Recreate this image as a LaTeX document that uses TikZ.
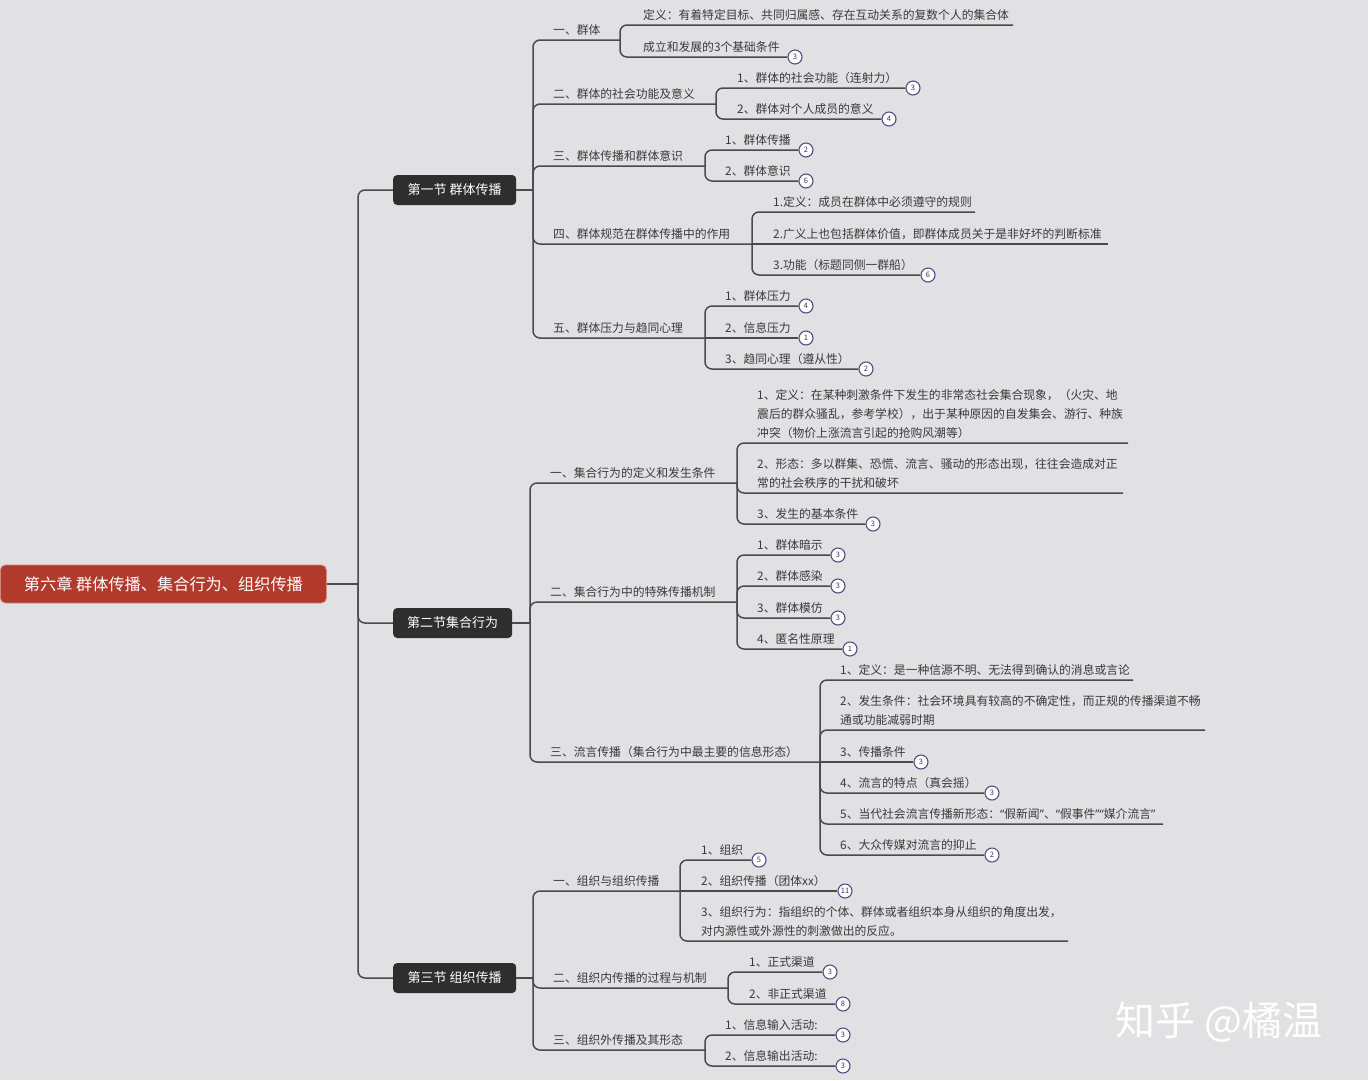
\documentclass[tikz,border=0pt]{standalone}
\usepackage{fontspec}
\setmainfont{Noto Sans CJK SC}
\newfontfamily\latq{Noto Sans}
\definecolor{bgc}{HTML}{E1E0E2}
\definecolor{linec}{HTML}{4A4A4A}
\definecolor{txtc}{HTML}{3A3A3A}
\definecolor{badgec}{HTML}{4F4F86}
\definecolor{rootc}{HTML}{B23A2C}
\definecolor{secc}{HTML}{2E2E2E}
\tikzset{
 conn/.style={draw=linec, line width=1.5pt, rounded corners=7pt},
 tx/.style={inner sep=0pt, anchor=south west, text depth=0pt, text=txtc, font=\fontsize{11.8}{19}\selectfont, align=left},
 badge/.style={circle, draw=badgec, fill=white, line width=1.1pt, minimum size=14pt, inner sep=0pt, font=\fontsize{7.5}{7.5}\selectfont, text=badgec!70!black},
 sect/.style={rounded corners=4pt, fill=secc, text=white, font=\fontsize{13}{13}\selectfont, minimum height=30pt, inner xsep=0pt, anchor=west},
 rootbox/.style={rounded corners=5pt, fill=rootc, draw=rootc!60!white, line width=0.8pt, text=white, font=\fontsize{16.2}{16.2}\selectfont, minimum height=38pt, minimum width=326pt, inner xsep=0pt, anchor=west},
}
\newcommand\tp[4]{\node[tx] (#1) at (#2,#3-5) {#4};}
\newcommand\bd[4]{\node[badge] (#1) at (#2,#3) {#4};}
\newcommand\myLq{{\latq “}}
\newcommand\myRq{{\latq ”}}
\begin{document}
\begin{tikzpicture}[x=1pt,y=-1pt]
\useasboundingbox[fill=bgc] (0,0) rectangle (1368,1080);

% root and trunk
\node[rootbox] (root) at (0,584) {第六章 群体传播、集合行为、组织传播};
\node[sect, minimum width=123pt] (s1) at (393,190) {第一节 群体传播};
\node[sect, minimum width=119pt] (s2) at (393,623) {第二节集合行为};
\node[sect, minimum width=123pt] (s3) at (393,978) {第三节 组织传播};
\coordinate (t) at (358,584);
\draw[conn] (root.east) -- (t);
\draw[conn] (t) |- (s1.west);
\draw[conn] (t) |- (s2.west);
\draw[conn] (t) |- (s3.west);

% ===== Section 1 =====
\coordinate (j1) at (533,190);
\draw[conn] (s1.east) -- (j1);

\tp{c11}{553}{40}{一、群体}
\coordinate (k11) at (620,40);
\draw[conn] (j1) |- (k11);
\tp{c111}{643}{25}{定义：有着特定目标、共同归属感、存在互动关系的复数个人的集合体}
\coordinate (e111) at (1013,25);
\draw[conn] (k11) |- (e111);
\tp{c112}{643}{57}{成立和发展的3个基础条件}
\bd{b112}{795}{57}{3}
\draw[conn] (k11) |- (b112.west);

\tp{c12}{553}{104}{二、群体的社会功能及意义}
\coordinate (k12) at (716,104);
\draw[conn] (j1) |- (k12);
\tp{c121}{737}{88}{1、群体的社会功能（连射力）}
\bd{b121}{913}{88}{3}
\draw[conn] (k12) |- (b121.west);
\tp{c122}{737}{119}{2、群体对个人成员的意义}
\bd{b122}{889}{119}{4}
\draw[conn] (k12) |- (b122.west);

\tp{c13}{553}{166}{三、群体传播和群体意识}
\coordinate (k13) at (705,166);
\draw[conn] (j1) |- (k13);
\tp{c131}{725}{150}{1、群体传播}
\bd{b131}{806}{150}{2}
\draw[conn] (k13) |- (b131.west);
\tp{c132}{725}{181}{2、群体意识}
\bd{b132}{806}{181}{6}
\draw[conn] (k13) |- (b132.west);

\tp{c14}{553}{244}{四、群体规范在群体传播中的作用}
\coordinate (k14) at (752,244);
\draw[conn] (j1) |- (k14);
\tp{c141}{773}{212}{1.定义：成员在群体中必须遵守的规则}
\coordinate (e141) at (975,212);
\draw[conn] (k14) |- (e141);
\tp{c142}{773}{244}{2.广义上也包括群体价值，即群体成员关于是非好坏的判断标准}
\coordinate (e142) at (1108,244);
\draw[conn] (k14) -- (e142);
\tp{c143}{773}{275}{3.功能（标题同侧一群船）}
\bd{b143}{928}{275}{6}
\draw[conn] (k14) |- (b143.west);

\tp{c15}{553}{338}{五、群体压力与趋同心理}
\coordinate (k15) at (705,338);
\draw[conn] (j1) |- (k15);
\tp{c151}{725}{306}{1、群体压力}
\bd{b151}{806}{306}{4}
\draw[conn] (k15) |- (b151.west);
\tp{c152}{725}{338}{2、信息压力}
\bd{b152}{806}{338}{1}
\draw[conn] (k15) -- (b152.west);
\tp{c153}{725}{369}{3、趋同心理（遵从性）}
\bd{b153}{866}{369}{2}
\draw[conn] (k15) |- (b153.west);

% ===== Section 2 =====
\coordinate (j2) at (530,623);
\draw[conn] (s2.east) -- (j2);

\tp{c21}{550}{483}{一、集合行为的定义和发生条件}
\coordinate (k21) at (737,483);
\draw[conn] (j2) |- (k21);
\tp{c211}{757}{443}{1、定义：在某种刺激条件下发生的非常态社会集合现象，（火灾、地\\震后的群众骚乱，参考学校），出于某种原因的自发集会、游行、种族\\冲突（物价上涨流言引起的抢购风潮等）}
\coordinate (e211) at (1128,443);
\draw[conn] (k21) |- (e211);
\tp{c212}{757}{493}{2、形态：多以群集、恐慌、流言、骚动的形态出现，往往会造成对正\\常的社会秩序的干扰和破坏}
\coordinate (e212) at (1123,493);
\draw[conn] (k21) |- (e212);
\tp{c213}{757}{524}{3、发生的基本条件}
\bd{b213}{873}{524}{3}
\draw[conn] (k21) |- (b213.west);

\tp{c22}{550}{602}{二、集合行为中的特殊传播机制}
\coordinate (k22) at (737,602);
\draw[conn] (j2) |- (k22);
\tp{c221}{757}{555}{1、群体暗示}
\bd{b221}{838}{555}{3}
\draw[conn] (k22) |- (b221.west);
\tp{c222}{757}{586}{2、群体感染}
\bd{b222}{838}{586}{3}
\draw[conn] (k22) |- (b222.west);
\tp{c223}{757}{618}{3、群体模仿}
\bd{b223}{838}{618}{3}
\draw[conn] (k22) |- (b223.west);
\tp{c224}{757}{649}{4、匿名性原理}
\bd{b224}{850}{649}{1}
\draw[conn] (k22) |- (b224.west);

\tp{c23}{550}{762}{三、流言传播（集合行为中最主要的信息形态）}
\coordinate (k23) at (820,762);
\draw[conn] (j2) |- (k23);
\tp{c231}{840}{680}{1、定义：是一种信源不明、无法得到确认的消息或言论}
\coordinate (e231) at (1133,680);
\draw[conn] (k23) |- (e231);
\tp{c232}{840}{730}{2、发生条件：社会环境具有较高的不确定性，而正规的传播渠道不畅\\通或功能减弱时期}
\coordinate (e232) at (1205,730);
\draw[conn] (k23) |- (e232);
\tp{c233}{840}{762}{3、传播条件}
\bd{b233}{921}{762}{3}
\draw[conn] (k23) -- (b233.west);
\tp{c234}{840}{793}{4、流言的特点（真会摇）}
\bd{b234}{992}{793}{3}
\draw[conn] (k23) |- (b234.west);
\tp{c235}{840}{824}{5、当代社会流言传播新形态：\myLq 假新闻\myRq 、\myLq 假事件\myRq\myLq 媒介流言\myRq}
\coordinate (e235) at (1163,824);
\draw[conn] (k23) |- (e235);
\tp{c236}{840}{855}{6、大众传媒对流言的抑止}
\bd{b236}{992}{855}{2}
\draw[conn] (k23) |- (b236.west);

% ===== Section 3 =====
\coordinate (j3) at (533,978);
\draw[conn] (s3.east) -- (j3);

\tp{c31}{553}{891}{一、组织与组织传播}
\coordinate (k31) at (680,891);
\draw[conn] (j3) |- (k31);
\tp{c311}{701}{860}{1、组织}
\bd{b311}{759}{860}{5}
\draw[conn] (k31) |- (b311.west);
\tp{c312}{701}{891}{2、组织传播（团体xx）}
\bd{b312}{845}{891}{11}
\draw[conn] (k31) -- (b312.west);
\tp{c313}{701}{941}{3、组织行为：指组织的个体、群体或者组织本身从组织的角度出发，\\对内源性或外源性的刺激做出的反应。}
\coordinate (e313) at (1068,941);
\draw[conn] (k31) |- (e313);

\tp{c32}{553}{988}{二、组织内传播的过程与机制}
\coordinate (k32) at (728,988);
\draw[conn] (j3) |- (k32);
\tp{c321}{749}{972}{1、正式渠道}
\bd{b321}{830}{972}{3}
\draw[conn] (k32) |- (b321.west);
\tp{c322}{749}{1004}{2、非正式渠道}
\bd{b322}{843}{1004}{8}
\draw[conn] (k32) |- (b322.west);

\tp{c33}{553}{1050}{三、组织外传播及其形态}
\coordinate (k33) at (705,1050);
\draw[conn] (j3) |- (k33);
\tp{c331}{725}{1035}{1、信息输入活动:}
\bd{b331}{843}{1035}{3}
\draw[conn] (k33) |- (b331.west);
\tp{c332}{725}{1066}{2、信息输出活动:}
\bd{b332}{843}{1066}{3}
\draw[conn] (k33) |- (b332.west);

% watermark
\node[anchor=west, inner sep=0pt, text=white, font=\fontsize{40}{40}\selectfont] (wm) at (1115,1022) {知乎 @橘温};
\end{tikzpicture}
\end{document}
